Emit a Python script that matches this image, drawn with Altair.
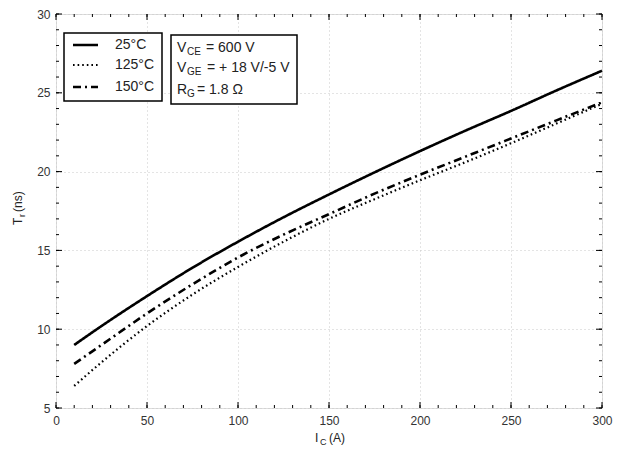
import altair as alt
import pandas as pd

# ---- data ----
ic = [10, 25, 50, 75, 100, 125, 150, 175, 200, 225, 250, 275, 300]
tr_25 = [9.0, 10.2, 12.1, 13.9, 15.55, 17.1, 18.55, 19.95, 21.3, 22.6, 23.85, 25.15, 26.4]
tr_125 = [6.4, 7.9, 10.2, 12.2, 13.95, 15.55, 17.0, 18.25, 19.45, 20.6, 21.8, 23.05, 24.3]
tr_150 = [7.8, 9.0, 11.0, 12.85, 14.55, 16.0, 17.3, 18.6, 19.8, 20.95, 22.1, 23.25, 24.4]

x_major = [0, 50, 100, 150, 200, 250, 300]
x_minor = list(range(0, 301, 10))
y_major = [5, 10, 15, 20, 25, 30]
y_minor = list(range(5, 31, 1))

legend_labels = ["25°C", "125°C", "150°C"]

W, H = 546, 394
FONT = "Liberation Sans"

xs = alt.Scale(domain=[0, 300], nice=False)
ys = alt.Scale(domain=[5, 30], nice=False)

xaxis = alt.Axis(values=x_major, ticks=False, domain=False, grid=True,
                 gridDash=[1, 3], gridColor="#c8c8c8", gridWidth=1,
                 labelFontSize=12, labelColor="#333333", labelFont=FONT,
                 labelPadding=7, title=None, labelFlush=False)
yaxis = alt.Axis(values=y_major, ticks=False, domain=False, grid=True,
                 gridDash=[1, 3], gridColor="#c8c8c8", gridWidth=1,
                 labelFontSize=12, labelColor="#333333", labelFont=FONT,
                 labelPadding=6, title=None, labelFlush=False)

one = pd.DataFrame({"a": [0]})

def curve(vals, dash, width):
    df = pd.DataFrame({"Ic": ic, "Tr": vals})
    enc = dict(x=alt.X("Ic:Q", scale=xs, axis=xaxis),
               y=alt.Y("Tr:Q", scale=ys, axis=yaxis))
    m = alt.Chart(df).mark_line(color="black", strokeWidth=width,
                                interpolate="monotone",
                                strokeDash=dash if dash else [1, 0])
    return m.encode(**enc)

layers = []
layers.append(curve(tr_25, None, 2.6))
layers.append(curve(tr_125, [1.6, 3], 2.2))
layers.append(curve(tr_150, [8, 4, 2, 4], 2.6))

# inward ticks on all four sides
def xticks(vals, length):
    df = pd.DataFrame({"v": vals})
    b = alt.Chart(df).mark_rule(color="black", strokeWidth=1).encode(
        x=alt.X("v:Q", scale=xs, axis=xaxis), y=alt.value(H), y2=alt.value(H - length))
    t = alt.Chart(df).mark_rule(color="black", strokeWidth=1).encode(
        x=alt.X("v:Q", scale=xs, axis=xaxis), y=alt.value(0), y2=alt.value(length))
    return [b, t]

def yticks(vals, length):
    df = pd.DataFrame({"v": vals})
    l = alt.Chart(df).mark_rule(color="black", strokeWidth=1).encode(
        y=alt.Y("v:Q", scale=ys, axis=yaxis), x=alt.value(0), x2=alt.value(length))
    r = alt.Chart(df).mark_rule(color="black", strokeWidth=1).encode(
        y=alt.Y("v:Q", scale=ys, axis=yaxis), x=alt.value(W), x2=alt.value(W - length))
    return [l, r]

layers += xticks(x_minor, 3) + xticks(x_major, 6)
layers += yticks(y_minor, 3) + yticks(y_major, 6)

# legend boxes
def box(x1, x2, y1, y2):
    return alt.Chart(one).mark_rect(fill="white", stroke="black", strokeWidth=1.5).encode(
        x=alt.value(x1), x2=alt.value(x2), y=alt.value(y1), y2=alt.value(y2))

layers.append(box(8, 106, 19, 87))
layers.append(box(115, 241, 21, 90))

def txt(s, x, y, size=14, **kw):
    return alt.Chart(one).mark_text(text=s, font=FONT, fontSize=size, color="#222222",
                                    align=kw.pop("align", "left"), baseline="middle", **kw).encode(
        x=alt.value(x), y=alt.value(y))

leg_y = [31, 51, 73]
dashes = [None, [1.6, 3], [8, 4, 2, 4]]
widths = [2.6, 2.2, 2.6]
for lab, yy, d, w in zip(legend_labels, leg_y, dashes, widths):
    r = alt.Chart(one).mark_rule(color="black", strokeWidth=w,
                                 strokeDash=d if d else [1, 0]).encode(
        x=alt.value(17), x2=alt.value(42), y=alt.value(yy))
    layers.append(r)
    layers.append(txt(lab, 59, yy))

# condition box
layers += [txt("V", 121, 34), txt("CE", 131, 38, 10), txt("= 600 V", 150, 34)]
layers += [txt("V", 121, 54), txt("GE", 131, 58, 10), txt("= + 18 V/-5 V", 151, 54)]
layers += [txt("R", 121, 76), txt("G", 131, 80, 10), txt("= 1.8 Ω", 141, 76)]

# axis titles with subscripts
layers += [txt("I", 259, 424, 12), txt("C", 264, 428, 9), txt("(A)", 273, 424, 12)]
layers += [txt("T", -38, 211, 12, angle=270), txt("r", -34, 203, 9, angle=270),
           txt("(ns)", -38, 198, 12, angle=270)]

chart = alt.layer(*layers).properties(
    width=W, height=H,
    autosize=alt.AutoSizeParams(type="none"),
    padding={"left": 48, "top": 6, "right": 11, "bottom": 42},
).configure_view(stroke="black", strokeWidth=1.5).configure(background="white")

chart.save("out.html", embed_options={"renderer": "svg", "actions": False})
